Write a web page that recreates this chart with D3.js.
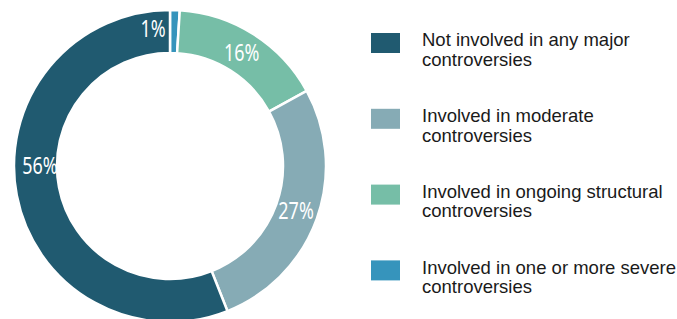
<!DOCTYPE html>
<html>
<head>
<meta charset="utf-8">
<script src="https://cdn.jsdelivr.net/npm/d3@7"></script>
<style>
  body { margin: 0; background: #fff; }
</style>
</head>
<body>
<svg width="677" height="319"></svg>
<script>
// slices in clockwise order from 12 o'clock
var categories = [
  "Involved in one or more severe|controversies",
  "Involved in ongoing structural|controversies",
  "Involved in moderate|controversies",
  "Not involved in any major|controversies"
];
var values = [1, 16, 27, 56];
var labels = ["1%", "16%", "27%", "56%"];
var colors = ["#3694bc", "#76bea7", "#86abb5", "#205a70"];
// legend runs in the opposite order
var legendOrder = [3, 2, 1, 0];
// label angle nudge (degrees) for slices where the label is moved off-centre
var labelNudge = [-8.8, 0, 0, 10.8];

var svg = d3.select("svg"),
    cx = 170, cy = 166,
    outerR = 156, innerR = 113;

var g = svg.append("g").attr("transform", "translate(" + cx + "," + cy + ")");

var pie = d3.pie().sort(null).value(function(d) { return d; });
var arcs = pie(values);

var arc = d3.arc().innerRadius(innerR).outerRadius(outerR);

g.selectAll("path")
  .data(arcs)
  .enter().append("path")
    .attr("d", arc)
    .attr("fill", function(d, i) { return colors[i]; })
    .attr("stroke", "#fff")
    .attr("stroke-width", 2.5);

var labelR = 134;
g.selectAll(".lbl")
  .data(arcs)
  .enter().append("text")
    .attr("class", "lbl")
    .attr("transform", function(d, i) {
      var a = (d.startAngle + d.endAngle) / 2 + labelNudge[i] * Math.PI / 180;
      var r = i === 0 ? 138 : (i === 3 ? 130 : labelR);
      return "translate(" + (r * Math.sin(a)) + "," + (-r * Math.cos(a) + 8) + ") scale(0.78,1)";
    })
    .attr("text-anchor", "middle")
    .attr("fill", "#fff")
    .style("font-family", "'Noto Sans', sans-serif")
    .style("font-size", "23px")
    .text(function(d, i) { return labels[i]; });

var legend = svg.append("g").attr("transform", "translate(371,33)");
var item = legend.selectAll(".item")
  .data(legendOrder)
  .enter().append("g")
    .attr("class", "item")
    .attr("transform", function(d, i) { return "translate(0," + (i * 75.8) + ")"; });

item.append("rect")
    .attr("width", 29)
    .attr("height", 20)
    .attr("fill", function(d) { return colors[d]; });

item.each(function(d) {
  var lines = categories[d].split("|");
  d3.select(this).selectAll("text")
    .data(lines)
    .enter().append("text")
      .attr("x", 51)
      .attr("y", function(l, j) { return 13.3 + j * 19.5; })
      .attr("fill", "#1a1a1a")
      .style("font-family", "'Liberation Sans', Arial, sans-serif")
      .style("font-size", "18.5px")
      .text(function(l) { return l; });
});
</script>
</body>
</html>
